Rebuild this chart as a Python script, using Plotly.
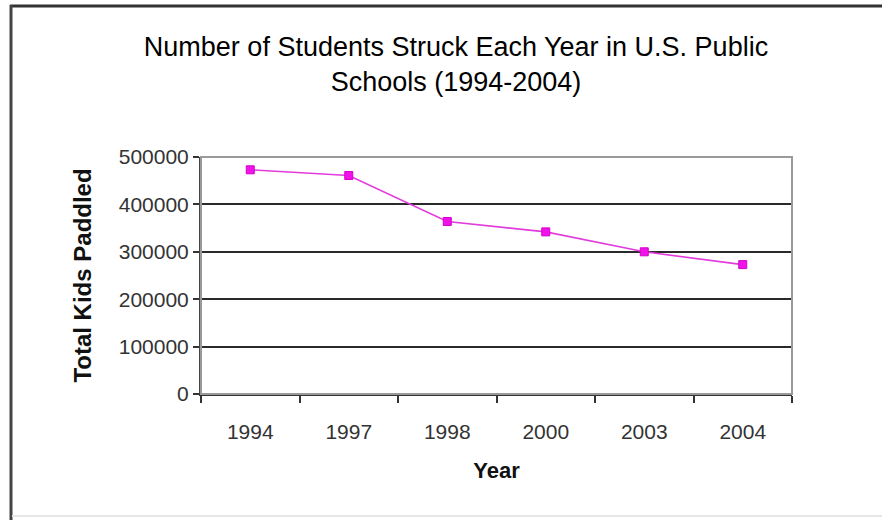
import plotly.graph_objects as go

# Students struck (paddled) each year in U.S. public schools
years = ["1994", "1997", "1998", "2000", "2003", "2004"]
students = [473000, 461000, 364000, 342000, 300000, 273000]
y_ticks = [0, 100000, 200000, 300000, 400000, 500000]

W, H = 882, 520
L, R, T, B = 201, 90, 157, 126


def px_x(p):
    return (p - L) / (W - L - R)


def px_y(p):
    return 1 - (p - T) / (H - T - B)


fig = go.Figure()
fig.add_trace(go.Scatter(
    x=years, y=students, mode="lines+markers",
    line=dict(color="#E23CDC", width=1.6),
    marker=dict(symbol="square", size=8, color="#F012E8",
                line=dict(color="#D400CC", width=1)),
    showlegend=False,
))

shapes = [
    # plot area border
    dict(type="rect", xref="paper", yref="paper", x0=0, x1=1, y0=0, y1=1,
         line=dict(color="#9a9a9a", width=2), layer="above"),
    # chart frame (top and left edges)
    dict(type="line", xref="paper", yref="paper",
         x0=px_x(10), x1=px_x(890), y0=px_y(6), y1=px_y(6),
         line=dict(color="#333333", width=3)),
    dict(type="line", xref="paper", yref="paper",
         x0=px_x(11), x1=px_x(11), y0=px_y(5), y1=px_y(525),
         line=dict(color="#444444", width=3)),
    dict(type="line", xref="paper", yref="paper",
         x0=px_x(12), x1=px_x(890), y0=px_y(516), y1=px_y(516),
         line=dict(color="#e6e6e6", width=2)),
]

fig.update_layout(
    width=W, height=H,
    margin=dict(l=L, r=R, t=T, b=B, autoexpand=False),
    paper_bgcolor="white", plot_bgcolor="white",
    font=dict(family="Liberation Sans, Arial, sans-serif", color="#1a1a1a"),
    title=dict(
        text="Number of Students Struck Each Year in U.S. Public<br>Schools (1994-2004)",
        x=456 / W, xanchor="center", xref="container",
        y=1 - 56 / H, yanchor="middle", yref="container",
        font=dict(size=27, color="#000000"),
    ),
    shapes=shapes,
    xaxis=dict(
        type="category", range=[-0.5, 5.5],
        tickson="boundaries", ticks="outside", ticklen=7, tickwidth=2,
        tickcolor="#333333",
        showline=True, linecolor="#333333", linewidth=2,
        showgrid=False, zeroline=False,
        tickfont=dict(size=21, color="#333333"),
        ticklabelstandoff=18,
        title=dict(text="<b>Year</b>", font=dict(size=22, color="#111111"),
                   standoff=20),
    ),
    yaxis=dict(
        range=[0, 500000], tickvals=y_ticks,
        ticktext=[str(v) for v in y_ticks],
        ticks="outside", ticklen=6, tickwidth=2, tickcolor="#333333",
        showline=True, linecolor="#444444", linewidth=2,
        showgrid=True, gridcolor="#2a2a2a", gridwidth=2,
        zeroline=False,
        tickfont=dict(size=21, color="#333333"),
        title=dict(text="<b>Total Kids Paddled</b>",
                   font=dict(size=24, color="#111111"), standoff=20),
    ),
)

fig.write_html("out.html")
